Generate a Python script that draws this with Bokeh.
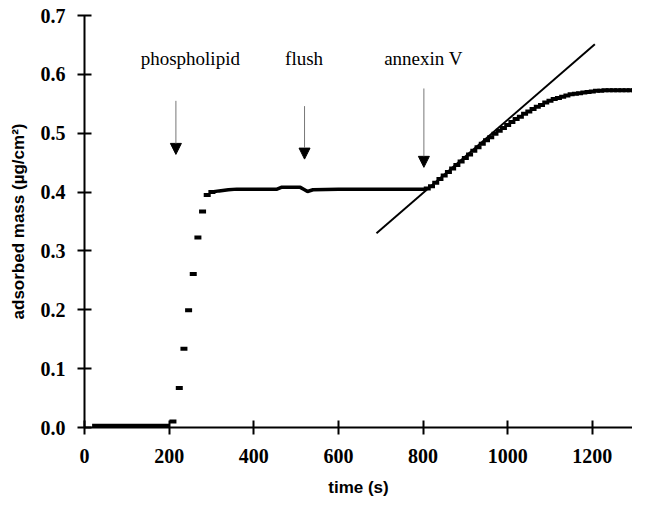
from bokeh.plotting import figure
from bokeh.models import FixedTicker, Arrow, NormalHead, Range1d
from bokeh.core.properties import value
from bokeh.embed import file_html
from bokeh.resources import INLINE

# ---- data ----
base_t = [18, 200]
base_v = [0.003, 0.003]
step_t = [209]
step_v = [0.010]
rise_t = [224, 235, 246, 257, 268, 279, 290, 301]
rise_v = [0.067, 0.134, 0.199, 0.261, 0.323, 0.367, 0.395, 0.400]
plateau_t = [301, 318, 340, 360, 400, 455, 465, 510, 520, 527, 540, 600, 700, 806]
plateau_v = [0.400, 0.402, 0.404, 0.405, 0.405, 0.405, 0.408, 0.408, 0.404, 0.401, 0.404, 0.405, 0.405, 0.405]
annex_t = [810, 820, 830, 840, 850, 860, 870, 880, 890, 900,
           910, 920, 930, 940, 950, 960, 970, 980, 990, 1000,
           1010, 1020, 1030, 1040, 1050, 1060, 1070, 1080, 1090, 1100,
           1110, 1120, 1130, 1140, 1150, 1160, 1170, 1180, 1190, 1200,
           1210, 1220, 1230, 1240, 1250, 1260, 1270, 1280, 1290, 1300, 1310]
annex_v = [0.406, 0.410, 0.416, 0.422, 0.428, 0.434, 0.440, 0.446, 0.452, 0.458,
           0.464, 0.470, 0.476, 0.482, 0.488, 0.493, 0.499, 0.504, 0.509, 0.514,
           0.519, 0.524, 0.528, 0.533, 0.537, 0.541, 0.545, 0.548, 0.552, 0.555,
           0.558, 0.560, 0.562, 0.564, 0.566, 0.567, 0.568, 0.569, 0.570, 0.571,
           0.572, 0.572, 0.573, 0.573, 0.573, 0.573, 0.573, 0.573, 0.573, 0.573, 0.573]
tangent_t = [690, 1206]
tangent_v = [0.330, 0.651]

event_labels = ["phospholipid", "flush", "annexin V"]
event_t = [216, 520, 802]
event_top_v = [0.555, 0.546, 0.576]
event_tip_v = [0.464, 0.456, 0.442]
label_t = [250, 519, 801]
label_v = [0.627, 0.627, 0.627]

x_ticks = [0, 200, 400, 600, 800, 1000, 1200]
y_ticks = [0.0, 0.1, 0.2, 0.3, 0.4, 0.5, 0.6, 0.7]
y_tick_labels = ["0.0", "0.1", "0.2", "0.3", "0.4", "0.5", "0.6", "0.7"]

p = figure(width=632, height=499, output_backend="svg", toolbar_location=None,
           x_range=Range1d(0, 1295), y_range=Range1d(0, 0.7),
           min_border_left=84, min_border_right=0, min_border_top=15, min_border_bottom=72)
p.outline_line_color = None
p.xgrid.visible = False
p.ygrid.visible = False

# data
p.line(base_t, base_v, line_color="black", line_width=4)
p.rect(step_t, step_v, width=7, height=4, width_units="screen", height_units="screen",
       fill_color="black", line_color=None)
p.rect(rise_t, rise_v, width=7, height=4, width_units="screen", height_units="screen",
       fill_color="black", line_color=None)
p.line(plateau_t, plateau_v, line_color="black", line_width=3.5)
p.rect(annex_t, annex_v, width=7, height=4, width_units="screen", height_units="screen",
       fill_color="black", line_color=None)
p.line(tangent_t, tangent_v, line_color="black", line_width=2)

# event arrows and labels
for t, top, tip in zip(event_t, event_top_v, event_tip_v):
    p.add_layout(Arrow(x_start=t, y_start=top, x_end=t, y_end=tip,
                       line_color="#777777", line_width=1,
                       end=NormalHead(size=11, fill_color="black", line_color="black")))
p.text(x=label_t, y=label_v, text=event_labels, text_font=value("Liberation Serif"),
       text_font_size="19px", text_align="center", text_baseline="alphabetic", text_color="black")

# axes
for ax in (p.xaxis[0], p.yaxis[0]):
    ax.axis_line_width = 2
    ax.axis_line_color = "black"
    ax.major_tick_line_width = 2
    ax.major_tick_in = 7
    ax.major_tick_out = 7
    ax.minor_tick_line_color = None
    ax.major_label_text_font = "Liberation Serif"
    ax.major_label_text_font_style = "bold"
    ax.major_label_text_font_size = "20px"
    ax.major_label_text_color = "black"
    ax.axis_label_text_font = "Liberation Sans"
    ax.axis_label_text_font_style = "bold"
    ax.axis_label_text_font_size = "17px"
    ax.axis_label_text_color = "black"

p.xaxis[0].ticker = FixedTicker(ticks=x_ticks)
p.xaxis[0].major_label_standoff = 14
p.xaxis[0].axis_label = "time (s)"
p.xaxis[0].axis_label_standoff = 12

p.yaxis[0].ticker = FixedTicker(ticks=y_ticks)
p.yaxis[0].major_label_overrides = {t: l for t, l in zip(y_ticks, y_tick_labels)}
p.yaxis[0].major_label_standoff = 12
p.yaxis[0].axis_label = "adsorbed mass (µg/cm²)"
p.yaxis[0].axis_label_standoff = 10

open("out.html", "w").write(file_html(p, INLINE))
